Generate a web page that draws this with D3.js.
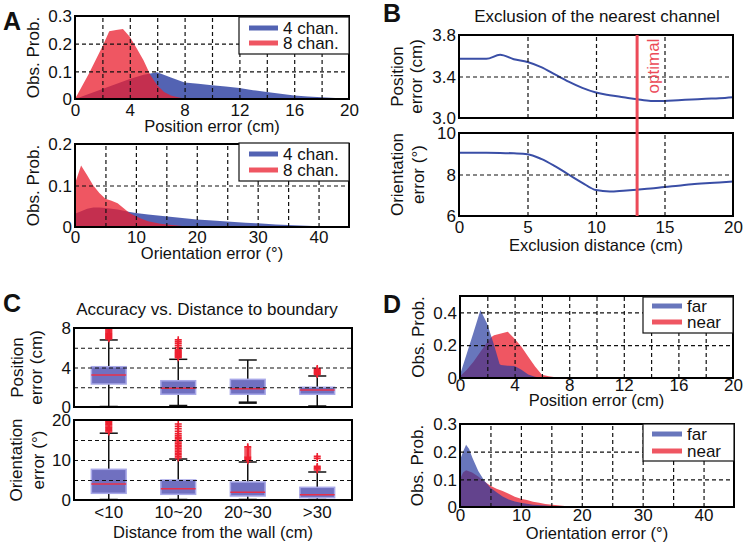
<!DOCTYPE html>
<html><head><meta charset="utf-8">
<script src="https://cdn.jsdelivr.net/npm/d3@7"></script>
<style>
body{margin:0;background:#fff}
svg text{font-family:"Liberation Sans",Arial,Helvetica,sans-serif;fill:#111}
</style></head><body>
<svg id="c" width="745" height="548"></svg>
<script>
// ---------- DATA ----------
// Panel A (top): position error distributions
const aPosX4 = [0,1,2,3,4,5,6,7,8,9,10,11,12,13,14,15,16,17,18,19,20];
const aPos4  = [0,0.018,0.036,0.054,0.072,0.088,0.097,0.078,0.06,0.055,0.05,0.045,0.04,0.032,0.025,0.019,0.013,0.009,0.006,0.004,0.003];
const aPosX8 = [0,0.5,1,1.5,2,2.5,3,3.5,4,4.5,5,5.5,6,6.5,7,7.5,8,9,10,20];
const aPos8  = [0,0.045,0.09,0.14,0.19,0.245,0.249,0.253,0.225,0.183,0.14,0.087,0.05,0.025,0.013,0.006,0.002,0,0,0];
// Panel A (bottom): orientation error distributions
const aOriX4 = [0,1,2,3,4,5,6,7,8,9,10,12,14,16,18,20,22,25,28,30,33,35,38,40,42,45];
const aOri4  = [0.032,0.038,0.044,0.047,0.047,0.046,0.044,0.042,0.039,0.036,0.034,0.03,0.027,0.024,0.021,0.018,0.016,0.013,0.01,0.009,0.006,0.005,0.003,0.002,0.001,0.001];
const aOriX8 = [0,1,2,3,4,5,6,7,8,9,10,11,12,14,16,18,20,25,45];
const aOri8  = [0.105,0.148,0.125,0.1,0.082,0.068,0.063,0.057,0.045,0.033,0.026,0.019,0.014,0.008,0.005,0.002,0,0,0];
const aSeries = ["4 chan.","8 chan."];
// Panel B: exclusion distance
const bX   = [0,1,2,3,4,5,6,7,8,9,10,11,12,13,14,15,16,17,18,19,20];
const bPos = [3.57,3.57,3.57,3.61,3.566,3.54,3.49,3.42,3.35,3.29,3.245,3.22,3.2,3.18,3.165,3.165,3.172,3.178,3.185,3.19,3.2];
const bOri = [9.05,9.05,9.05,9.04,9.02,8.98,8.75,8.4,8.0,7.6,7.25,7.18,7.22,7.27,7.32,7.4,7.46,7.53,7.58,7.62,7.66];
const bOptimal = 13;
// Panel C: boxplots by distance from the wall
const cCats   = ["<10","10~20","20~30",">30"];
const cPosLo  = [0,0.1,0.44,0.05];
const cPosQ1  = [2.33,1.29,1.29,1.29];
const cPosMed = [3.24,1.89,1.85,1.72];
const cPosQ3  = [4.08,2.66,2.8,2.0];
const cPosHi  = [6.79,4.83,4.76,3.14];
const cPosOut = [
  [6.9,7.0,7.1,7.2,7.3,7.4,7.5,7.6,7.7,7.8,7.9,8.0],
  [5.0,5.1,5.2,5.3,5.4,5.5,5.6,5.7,5.8,6.0,6.2,6.4,6.6,6.8],
  [],
  [3.3,3.4,3.5,3.6,3.7,3.8,3.9]
];
const cOriLo  = [0,0,0,0];
const cOriQ1  = [1.67,1.42,1.0,0.58];
const cOriMed = [4.0,2.83,1.92,1.33];
const cOriQ3  = [7.67,5.0,4.5,3.17];
const cOriHi  = [16.7,10.25,9.5,7.0];
const cOriOut = [
  [17.0,17.3,17.6,17.9,18.2,18.5,18.8,19.1,19.4,19.7,20.0,20.3],
  [10.5,10.9,11.3,11.7,12.1,12.5,12.9,13.3,13.7,14.1,14.5,14.9,15.3,15.7,16.1,16.6,17.2,17.8,18.4,19.0],
  [9.8,10.1,10.4,10.7,11.0,11.5,12.0,12.5,13.0,13.3],
  [7.5,7.8,8.1,8.4,10.4,10.9]
];
// Panel D: far vs near
const dPosXFar  = [0,0.5,1,1.5,2,2.3,2.5,2.9,3,3.5,4,4.5,5,5.5,6,7,20];
const dPosFar   = [0.02,0.15,0.28,0.415,0.33,0.252,0.2,0.085,0.08,0.075,0.073,0.05,0.022,0.008,0.002,0,0];
const dPosXNear = [0,0.5,1,1.5,2,2.3,2.5,3,3.5,4,4.5,5,5.5,6,6.5,7,8,9,20];
const dPosNear  = [0.01,0.05,0.1,0.16,0.22,0.25,0.26,0.272,0.282,0.24,0.19,0.13,0.07,0.02,0.01,0.005,0.001,0,0];
const dOriXFar  = [0,0.5,1,1.5,2,3,4,5,6,7,8,9,10,12,14,16,18,20,45];
const dOriFar   = [0.17,0.2,0.225,0.21,0.18,0.13,0.095,0.07,0.053,0.038,0.027,0.02,0.015,0.008,0.005,0.002,0.001,0,0];
const dOriXNear = [0,0.5,1,2,3,4,5,6,7,8,9,10,11,12,13,14,16,18,20,45];
const dOriNear  = [0.1,0.125,0.133,0.125,0.11,0.092,0.077,0.066,0.058,0.048,0.037,0.03,0.025,0.019,0.015,0.011,0.006,0.002,0,0];
const dSeries = ["far","near"];

// ---------- DRAWING ----------
const svg = d3.select("#c");
const FS = 17, FL = 16.5;
const BLUE = "rgb(40,60,160)", RED = "rgb(233,30,45)";
let clipN = 0;

function panel(p){
  const g = svg.append("g");
  const x = p.cats ? d3.scaleBand().domain(p.cats).range([p.l,p.r])
                   : d3.scaleLinear().domain(p.xd).range([p.l,p.r]);
  const y = d3.scaleLinear().domain(p.yd).range([p.b,p.t]);
  const id = "clip"+(++clipN);
  svg.append("clipPath").attr("id",id).append("rect")
    .attr("x",p.l).attr("y",p.t).attr("width",p.r-p.l).attr("height",p.b-p.t);
  const content = g.append("g").attr("clip-path",`url(#${id})`);
  return {g,x,y,content,p};
}
function styleGrid(sel){
  sel.select(".domain").remove();
  sel.selectAll("line").attr("stroke","#111").attr("stroke-width",1.2).attr("stroke-dasharray","4,3");
}
function finish(P){
  const {g,x,y,p} = P;
  const w = p.r-p.l, h = p.b-p.t;
  if(p.xGrid){
    g.append("g").attr("transform",`translate(0,${p.b})`)
      .call(d3.axisBottom(x).tickValues(p.xGrid).tickSize(-h).tickFormat(""))
      .call(styleGrid);
  }
  if(p.yGrid){
    g.append("g").attr("transform",`translate(${p.l},0)`)
      .call(d3.axisLeft(y).tickValues(p.yGrid).tickSize(-w).tickFormat(""))
      .call(styleGrid);
  }
  g.append("rect").attr("x",p.l).attr("y",p.t).attr("width",w).attr("height",h)
    .attr("fill","none").attr("stroke","#000").attr("stroke-width",2);
  if(p.yTicks){
    const ay = g.append("g").attr("transform",`translate(${p.l},0)`)
      .call(d3.axisLeft(y).tickValues(p.yTicks).tickSize(0).tickPadding(3).tickFormat(p.yFmt||(d=>d)));
    ay.select(".domain").remove();
    ay.attr("font-size",null).attr("font-family",null);
    ay.selectAll("text").style("font-size",FS+"px").attr("dy","0.34em");
  }
  if(p.xTicks){
    const ax = g.append("g").attr("transform",`translate(0,${p.b})`)
      .call(d3.axisBottom(x).tickValues(p.xTicks).tickSize(0).tickFormat(p.xFmt||(d=>d)));
    ax.select(".domain").remove();
    ax.attr("font-size",null).attr("font-family",null);
    ax.selectAll("text").style("font-size",FS+"px").attr("y",p.xTickOff).attr("dy",null);
  }
  if(p.xLabel){
    g.append("text").attr("x",(p.l+p.r)/2).attr("y",p.xLabelY).attr("text-anchor","middle")
      .style("font-size",FL+"px").text(p.xLabel);
  }
  if(p.yLabel){
    const cy = (p.t+p.b)/2;
    p.yLabel.forEach((line,i)=>{
      g.append("text").attr("transform",`translate(${p.yLabelX[i]},${cy}) rotate(-90)`)
        .attr("text-anchor","middle").attr("dy","0.36em").style("font-size",FS+"px").text(line);
    });
  }
}
function legend(P, names, colors, opac, box, lineYs, lx0, lx1){
  const g = P.g.append("g");
  g.append("rect").attr("x",box[0]).attr("y",box[1]).attr("width",box[2]-box[0]).attr("height",box[3]-box[1])
    .attr("fill","#fff").attr("stroke","#111").attr("stroke-width",1.2);
  names.forEach((n,i)=>{
    g.append("line").attr("x1",lx0).attr("x2",lx1).attr("y1",lineYs[i]).attr("y2",lineYs[i])
      .attr("stroke",colors[i]).attr("stroke-opacity",opac[i]).attr("stroke-width",5);
    g.append("text").attr("x",lx1+5).attr("y",lineYs[i]).attr("dy","0.36em").style("font-size",FS+"px").text(n);
  });
}
function area(P, xs, ys, color, op){
  const data = xs.map((d,i)=>[d,ys[i]]);
  P.content.append("path").datum(data)
    .attr("d", d3.area().x(d=>P.x(d[0])).y0(P.y(0)).y1(d=>P.y(d[1])))
    .attr("fill",color).attr("fill-opacity",op);
}
function line(P, xs, ys, color, w){
  const data = xs.map((d,i)=>[d,ys[i]]);
  P.content.append("path").datum(data)
    .attr("d", d3.line().x(d=>P.x(d[0])).y(d=>P.y(d[1])).curve(d3.curveMonotoneX))
    .attr("fill","none").attr("stroke",color).attr("stroke-width",w);
}
function boxes(P, lo, q1, med, q3, hi, out){
  const bw = P.x.bandwidth();
  cCats.forEach((c,i)=>{
    const cx = P.x(c)+bw/2, half = bw*0.25, cap = bw*0.13;
    const G = P.content.append("g");
    G.append("line").attr("x1",cx).attr("x2",cx).attr("y1",P.y(q3[i])).attr("y2",P.y(hi[i])).attr("stroke","#111").attr("stroke-width",1.5);
    G.append("line").attr("x1",cx).attr("x2",cx).attr("y1",P.y(q1[i])).attr("y2",P.y(lo[i])).attr("stroke","#111").attr("stroke-width",1.5);
    G.append("line").attr("x1",cx-cap).attr("x2",cx+cap).attr("y1",P.y(hi[i])).attr("y2",P.y(hi[i])).attr("stroke","#111").attr("stroke-width",1.5);
    G.append("line").attr("x1",cx-cap).attr("x2",cx+cap).attr("y1",P.y(lo[i])).attr("y2",P.y(lo[i])).attr("stroke","#111").attr("stroke-width",2.5);
    G.append("rect").attr("x",cx-half).attr("width",2*half).attr("y",P.y(q3[i])).attr("height",P.y(q1[i])-P.y(q3[i]))
      .attr("fill","#7070c0").attr("stroke","#a8a8e8").attr("stroke-width",1.5);
    G.append("line").attr("x1",cx-half).attr("x2",cx+half).attr("y1",P.y(med[i])).attr("y2",P.y(med[i])).attr("stroke","#e8304a").attr("stroke-width",1.5);
    out[i].forEach(v=>{
      G.append("path").attr("transform",`translate(${cx},${P.y(v)})`).attr("d","M-3.5,0H3.5M0,-3.5V3.5")
        .attr("stroke","#ee2030").attr("stroke-width",1.6);
    });
  });
}
const fmt1 = d=> d===0?"0":d3.format(".1f")(d);

// Panel A top
const A1 = panel({l:75,r:349,t:16,b:99,xd:[0,20],yd:[0,0.3]});
area(A1,aPosX4,aPos4,BLUE,0.8);
area(A1,aPosX8,aPos8,RED,0.75);
Object.assign(A1.p,{xGrid:[2,4,6,8,10,12,14,16,18],yGrid:[0.1,0.2],xTicks:[0,4,8,12,16,20],yTicks:[0,0.1,0.2,0.3],yFmt:fmt1,
  xTickOff:17,xLabel:"Position error (cm)",xLabelY:132,yLabel:["Obs. Prob."],yLabelX:[33]});
finish(A1);
legend(A1,aSeries,[BLUE,RED],[0.8,0.75],[239,17,349,54],[28,43],249,278);

// Panel A bottom
const A2 = panel({l:75,r:349,t:144,b:227,xd:[0,45],yd:[0,0.2]});
area(A2,aOriX4,aOri4,BLUE,0.8);
area(A2,aOriX8,aOri8,RED,0.75);
Object.assign(A2.p,{xGrid:[5,10,15,20,25,30,35,40],yGrid:[0.1],xTicks:[0,10,20,30,40],yTicks:[0,0.1,0.2],yFmt:fmt1,
  xTickOff:16,xLabel:"Orientation error (°)",xLabelY:259,yLabel:["Obs. Prob."],yLabelX:[33]});
finish(A2);
legend(A2,aSeries,[BLUE,RED],[0.8,0.75],[239,143,349,181],[154,170],249,278);

// Panel B top
const B1 = panel({l:459,r:733,t:35,b:118,xd:[0,20],yd:[3.0,3.8]});
line(B1,bX,bPos,"#3a4ea6",2);
Object.assign(B1.p,{xGrid:[5,10,15],yGrid:[3.4],yTicks:[3.0,3.4,3.8],yFmt:d3.format(".1f"),
  yLabel:["Position","error (cm)"],yLabelX:[397,416]});
finish(B1);
// Panel B bottom
const B2 = panel({l:459,r:733,t:133,b:216,xd:[0,20],yd:[6,10]});
line(B2,bX,bOri,"#3a4ea6",2);
Object.assign(B2.p,{xGrid:[5,10,15],yGrid:[8],xTicks:[0,5,10,15,20],yTicks:[6,8,10],
  xTickOff:17,xLabel:"Exclusion distance (cm)",xLabelY:251,yLabel:["Orientation","error (°)"],yLabelX:[397,418]});
finish(B2);
// optimal line spanning both
svg.append("line").attr("x1",B1.x(bOptimal)).attr("x2",B1.x(bOptimal)).attr("y1",B1.y(3.8)).attr("y2",B2.y(6))
  .attr("stroke","#ec4a58").attr("stroke-width",3);
svg.append("text").attr("transform",`translate(${B1.x(bOptimal)+16},${66}) rotate(-90)`)
  .attr("text-anchor","middle").attr("dy","0.36em").style("font-size",FS+"px").style("fill","#ec4a58").text("optimal");
svg.append("text").attr("x",597).attr("y",22).attr("text-anchor","middle").style("font-size",FS+"px")
  .text("Exclusion of the nearest channel");

// Panel C top
const C1 = panel({l:74,r:352,t:328,b:407,cats:cCats,yd:[0,8]});
boxes(C1,cPosLo,cPosQ1,cPosMed,cPosQ3,cPosHi,cPosOut);
Object.assign(C1.p,{yGrid:[2,4,6],yTicks:[0,4,8],yLabel:["Position","error (cm)"],yLabelX:[17,36]});
finish(C1);
// Panel C bottom
const C2 = panel({l:74,r:352,t:420,b:500,cats:cCats,yd:[0,20]});
boxes(C2,cOriLo,cOriQ1,cOriMed,cOriQ3,cOriHi,cOriOut);
Object.assign(C2.p,{yGrid:[5,10,15],yTicks:[0,10,20],xTicks:cCats,xTickOff:18,
  xLabel:"Distance from the wall (cm)",xLabelY:538,yLabel:["Orientation","error (°)"],yLabelX:[16,38]});
finish(C2);
svg.append("text").attr("x",207).attr("y",315).attr("text-anchor","middle").style("font-size",FS+"px")
  .text("Accuracy vs. Distance to boundary");

// Panel D top
const D1 = panel({l:460,r:733,t:296,b:378,xd:[0,20],yd:[0,0.5]});
area(D1,dPosXNear,dPosNear,RED,0.75);
area(D1,dPosXFar,dPosFar,BLUE,0.7);
Object.assign(D1.p,{xGrid:[2,4,6,8,10,12,14,16,18],yGrid:[0.2,0.4],xTicks:[0,4,8,12,16,20],yTicks:[0,0.2,0.4],yFmt:fmt1,
  xTickOff:13,xLabel:"Position error (cm)",xLabelY:406,yLabel:["Obs. Prob."],yLabelX:[418]});
finish(D1);
legend(D1,dSeries,[BLUE,RED],[0.7,0.75],[643,297,733,333],[306,322],652,682);

// Panel D bottom
const D2 = panel({l:460,r:734,t:424,b:507,xd:[0,45],yd:[0,0.3]});
area(D2,dOriXNear,dOriNear,RED,0.75);
area(D2,dOriXFar,dOriFar,BLUE,0.7);
Object.assign(D2.p,{xGrid:[5,10,15,20,25,30,35,40],yGrid:[0.1,0.2],xTicks:[0,10,20,30,40],yTicks:[0,0.1,0.2,0.3],yFmt:fmt1,
  xTickOff:14,xLabel:"Orientation error (°)",xLabelY:539,yLabel:["Obs. Prob."],yLabelX:[417]});
finish(D2);
legend(D2,dSeries,[BLUE,RED],[0.7,0.75],[643,424,734,461],[434,451],652,682);

// panel letters
[["A",3,30],["B",383,22],["C",3,312],["D",383,313]].forEach(([t,x,y])=>{
  svg.append("text").attr("x",x).attr("y",y).style("font-size","25px").style("font-weight","bold").text(t);
});
</script>
</body></html>
